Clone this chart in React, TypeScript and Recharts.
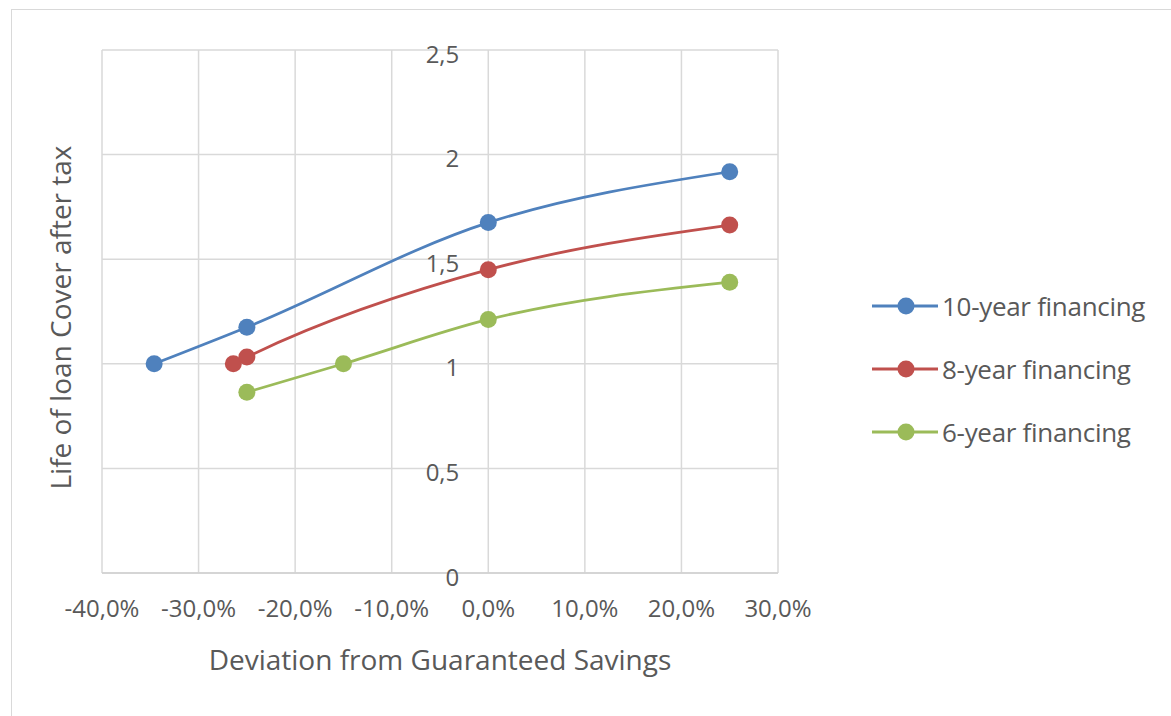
import {
  LineChart,
  Line,
  XAxis,
  YAxis,
  CartesianGrid,
  Legend,
  ReferenceDot,
} from "recharts";

// deviation from guaranteed savings (fraction) / life of loan cover after tax
const tenYearX = [-0.346, -0.25, 0, 0.25];
const tenYearY = [1.0, 1.175, 1.675, 1.918];
const eightYearX = [-0.264, -0.25, 0, 0.25];
const eightYearY = [1.0, 1.032, 1.45, 1.663];
const sixYearX = [-0.25, -0.15, 0, 0.25];
const sixYearY = [0.864, 1.0, 1.212, 1.39];

const seriesNames = ["10-year financing", "8-year financing", "6-year financing"];
const seriesColors = ["#4F81BD", "#C0504D", "#9BBB59"];

const xTicks = [-0.4, -0.3, -0.2, -0.1, 0, 0.1, 0.2, 0.3];
const yTicks = [0, 0.5, 1, 1.5, 2, 2.5];
const yTickLabels = ["0", "0,5", "1", "1,5", "2", "2,5"];

const FONT = "'Open Sans', Lato, sans-serif";
const TEXT = "#595959";

const toPoints = (xs: number[], ys: number[]) => xs.map((x, i) => ({ x, y: ys[i] }));

const series = [
  toPoints(tenYearX, tenYearY),
  toPoints(eightYearX, eightYearY),
  toPoints(sixYearX, sixYearY),
];

const fmtPct = (v: number) => `${(v * 100).toFixed(1).replace(".", ",")}%`;

const LegendBox = () => (
  <div style={{ fontFamily: FONT, fontSize: 26, color: TEXT, letterSpacing: -0.3 }}>
    {seriesNames.map((name, i) => (
      <div key={name} style={{ display: "flex", alignItems: "center", height: 63 }}>
        <svg width={66} height={20} style={{ marginRight: 4 }}>
          <line x1={0} y1={10} x2={66} y2={10} stroke={seriesColors[i]} strokeWidth={3} />
          <circle cx={34} cy={10} r={8.5} fill={seriesColors[i]} />
        </svg>
        <span>{name}</span>
      </div>
    ))}
  </div>
);

const YTitle = ({ viewBox }: any) => {
  const x = viewBox.x + 60;
  const y = viewBox.y + viewBox.height / 2 + 6;
  return (
    <text
      x={x}
      y={y}
      transform={`rotate(-90, ${x}, ${y})`}
      textAnchor="middle"
      dominantBaseline="central"
      fill={TEXT}
      fontSize={28}
      fontFamily={FONT}
    >
      Life of loan Cover after tax
    </text>
  );
};

export default function App() {
  return (
    <div style={{ position: "relative", width: 1171, height: 716, overflow: "hidden", background: "#fff" }}>
      <style>{`body{margin:0;overflow:hidden}`}</style>
      <div
        style={{
          position: "absolute",
          left: 11,
          top: 9,
          width: 1300,
          height: 900,
          border: "1px solid #d9d9d9",
        }}
      />
      <div style={{ position: "absolute", left: 0, top: 0 }}>
        <LineChart
          width={1171}
          height={716}
          margin={{ top: 50, right: 393, bottom: 0, left: 0 }}
          style={{ fontFamily: FONT }}
        >
          <CartesianGrid stroke="#d9d9d9" strokeWidth={1.5} />
          <XAxis
            type="number"
            dataKey="x"
            domain={[-0.4, 0.3]}
            ticks={xTicks}
            tickFormatter={fmtPct}
            height={143}
            tickSize={0}
            tickMargin={27}
            axisLine={{ stroke: "#d0d0d0", strokeWidth: 1.5 }}
            tick={{ fill: TEXT, fontSize: 24, fontFamily: FONT }}
            allowDataOverflow
            label={{
              value: "Deviation from Guaranteed Savings",
              position: "insideBottom",
              offset: 46,
              fill: TEXT,
              fontSize: 28,
              fontFamily: FONT,
            }}
          />
          <YAxis
            type="number"
            dataKey="y"
            domain={[0, 2.5]}
            ticks={yTicks}
            width={102}
            tick={<g />}
            tickLine={false}
            axisLine={false}
            label={<YTitle />}
          />
          {yTicks.map((t, i) => (
            <ReferenceDot
              key={t}
              x={0}
              y={t}
              r={0}
              fill="none"
              stroke="none"
              label={{
                value: yTickLabels[i],
                position: "left",
                offset: 29,
                dy: 4,
                fill: TEXT,
                fontSize: 24,
                fontFamily: FONT,
              }}
            />
          ))}
          <Legend
            layout="vertical"
            align="center"
            verticalAlign="middle"
            wrapperStyle={{ left: 872, top: 274, width: 299 }}
            content={() => <LegendBox />}
          />
          {series.map((pts, i) => (
            <Line
              key={seriesNames[i]}
              data={pts}
              dataKey="y"
              name={seriesNames[i]}
              type="monotone"
              stroke={seriesColors[i]}
              strokeWidth={2.75}
              dot={{ r: 8.5, fill: seriesColors[i], stroke: "none" }}
              activeDot={false}
              isAnimationActive={false}
            />
          ))}
        </LineChart>
      </div>
    </div>
  );
}
